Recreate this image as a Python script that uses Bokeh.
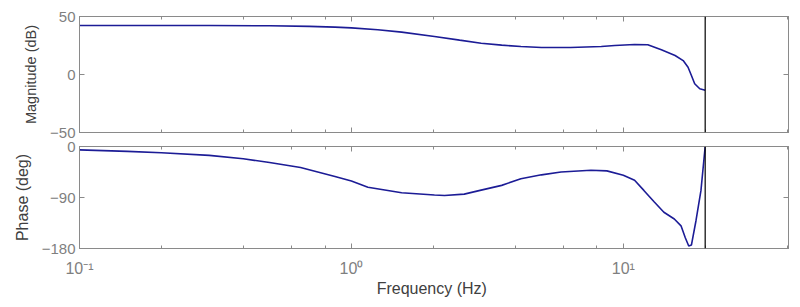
from bokeh.plotting import figure
from bokeh.layouts import column
from bokeh.models import (Range1d, LinearAxis, LogAxis, FixedTicker, Span,
                          CustomJSTickFormatter, LogTicker)
from bokeh.embed import file_html
from bokeh.resources import INLINE

# ---- data ----
freq_mag = [0.1, 0.2, 0.3, 0.5, 0.7, 0.87, 1.0, 1.25, 1.53, 2.02, 2.5, 3.0, 3.57, 4.2, 5.0,
            6.4, 8.3, 9.3, 11.0, 12.3, 13.8, 15.5, 16.6, 17.3, 17.8, 18.3, 19.1, 20.0]
mag_db = [42.3, 42.3, 42.2, 42.0, 41.5, 40.8, 40.2, 38.6, 36.5, 32.8, 29.6, 27.0, 25.3, 24.1, 23.3,
          23.3, 24.1, 25.0, 25.9, 25.6, 21.3, 16.4, 12.0, 6.3, -0.9, -8.0, -12.3, -13.6]

freq_phase = [0.1, 0.15, 0.2, 0.3, 0.4, 0.5, 0.65, 0.87, 1.0, 1.15, 1.53, 2.02, 2.2, 2.6, 3.0,
              3.57, 4.2, 5.0, 5.9, 7.6, 8.7, 10.0, 11.0, 11.9, 13.0, 14.1, 15.4, 16.3, 16.9,
              17.4, 17.8, 18.5, 19.3, 20.0]
phase_deg = [-6, -8.6, -11, -15.7, -21.7, -28.2, -37, -53, -61, -72, -81.5, -85.5, -86.5, -84, -77,
             -68.6, -57, -50, -45, -42, -43, -50.8, -59.7, -77.5, -98, -116, -128, -140, -161,
             -175.6, -174, -131, -77.5, 0]

mag_ticks = [-50, 0, 50]
phase_ticks = [-180, -90, 0]
x_tick_map = {"0.1": "10\u207b\u00b9", "1": "10\u2070", "10": "10\u00b9"}
x_lim = (0.1, 40.5)
nyquist_hz = 20

LINE_COLOR = "#1c1c96"
GRAY = "#8a8a8a"
LABEL_GRAY = "#7f7f7f"
TEXT_DARK = "#404040"
FONT = "Liberation Sans"

x_range = Range1d(*x_lim)

fmt = CustomJSTickFormatter(args=dict(m=x_tick_map), code="""
const k = String(Number(tick.toPrecision(6)));
return (k in m) ? m[k] : "";
""")


def style_axis(ax, show_labels=True, size="16px"):
    ax.axis_line_color = GRAY
    ax.major_tick_line_color = GRAY
    ax.minor_tick_line_color = GRAY
    ax.major_tick_in = 5
    ax.major_tick_out = 0
    ax.minor_tick_in = 3
    ax.minor_tick_out = 0
    ax.major_label_text_font = FONT
    ax.major_label_text_color = LABEL_GRAY
    ax.major_label_text_font_size = size if show_labels else "0px"
    ax.major_label_standoff = 4 if show_labels else 0
    ax.axis_label_text_font = FONT
    ax.axis_label_text_font_style = "normal"
    ax.axis_label_text_color = TEXT_DARK
    ax.axis_label_text_font_size = "16px"


def make_fig(h, top, bottom, y_lim, y_ticks, y_label, y_label_size, freq, vals, show_x_labels):
    p = figure(width=800, height=h, x_axis_type="log", x_range=x_range,
               y_range=Range1d(*y_lim), output_backend="svg", toolbar_location=None,
               min_border_left=79, min_border_right=12, min_border_top=top,
               min_border_bottom=bottom)
    p.grid.visible = False
    p.outline_line_color = GRAY
    p.background_fill_color = "white"
    p.border_fill_color = "white"

    # bottom x axis
    xa = p.xaxis[0]
    xa.ticker = LogTicker()
    xa.formatter = fmt
    style_axis(xa, show_x_labels)
    if show_x_labels:
        xa.axis_label = "Frequency  (Hz)"
        xa.major_label_standoff = 11
        xa.axis_label_standoff = 0

    # left y axis
    ya = p.yaxis[0]
    ya.ticker = FixedTicker(ticks=y_ticks)
    style_axis(ya, True, "15px")
    ya.minor_tick_line_color = None
    ya.axis_label = y_label
    ya.axis_label_text_font_size = y_label_size
    ya.axis_label_standoff = 8

    # top and right tick-only axes
    top_ax = LogAxis(ticker=LogTicker(), formatter=fmt)
    style_axis(top_ax, False)
    p.add_layout(top_ax, "above")
    right_ax = LinearAxis(ticker=FixedTicker(ticks=y_ticks))
    style_axis(right_ax, False)
    right_ax.minor_tick_line_color = None
    p.add_layout(right_ax, "right")

    p.line(freq, vals, line_color=LINE_COLOR, line_width=1.6)
    p.add_layout(Span(location=nyquist_hz, dimension="height", line_color="black", line_width=1.2))
    return p


p1 = make_fig(139, 16, 7, (-50, 50), mag_ticks, "Magnitude (dB)", "14.5px",
              freq_mag, mag_db, False)
p2 = make_fig(168, 7, 59, (-180, 0), phase_ticks, "Phase (deg)", "16px",
              freq_phase, phase_deg, True)

layout = column(p1, p2)
open("out.html", "w").write(file_html(layout, INLINE))
